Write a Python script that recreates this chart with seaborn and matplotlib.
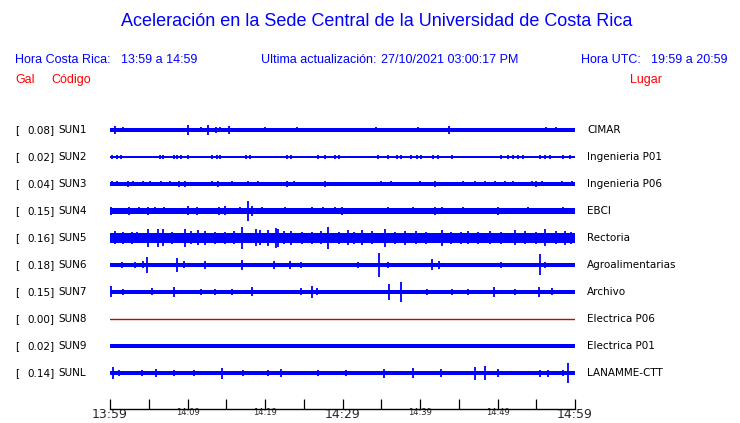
import matplotlib
matplotlib.use("Agg")
import matplotlib.pyplot as plt
import seaborn as sns
import numpy as np
import pandas as pd

# ---------------- data ----------------
codes = ["SUN1", "SUN2", "SUN3", "SUN4", "SUN5", "SUN6", "SUN7", "SUN8", "SUN9", "SUNL"]
gal = [0.08, 0.02, 0.04, 0.15, 0.16, 0.18, 0.15, 0.00, 0.02, 0.14]
places = ["CIMAR", "Ingenieria P01", "Ingenieria P06", "EBCI", "Rectoria",
          "Agroalimentarias", "Archivo", "Electrica P06", "Electrica P01", "LANAMME-CTT"]
# background half-amplitude of each trace (pixels)
base_amp = [1.6, 0.6, 1.7, 2.6, 5.0, 2.0, 2.2, 0.5, 1.6, 2.2]
# bursts: (minute after 13:59, half amplitude in pixels)
bursts = {
    "SUN1": [(0.7, 4), (1.7, 2.5), (10.1, 5.3), (11.8, 2.5), (12.7, 4.7), (13.7, 3), (14.2, 2.5),
             (15.4, 3.8), (20.0, 2.5), (21.1, 2), (24.1, 2.5), (34.3, 2.5), (37.2, 2.2),
             (39.8, 2.5), (43.8, 4.3), (44.9, 2), (56.2, 2.5), (57.5, 2.5)],
    "SUN2": [(0.2, 1.6), (0.9, 1.6), (1.4, 1.6), (3.0, 1.4), (5.2, 1.4), (6.5, 1.8), (6.9, 1.8),
             (8.2, 1.8), (8.6, 1.8), (9.2, 1.8), (10.1, 1.6), (11.2, 1.4), (13.1, 1.8), (13.8, 1.8),
             (14.2, 1.8), (15.6, 1.4), (17.6, 1.6), (18.1, 1.6), (22.9, 1.6), (23.4, 1.6),
             (25.8, 1.4), (26.9, 1.6), (27.7, 1.6), (29.0, 1.6), (29.5, 1.6), (32.3, 1.4),
             (32.7, 1.4), (33.5, 1.4), (34.6, 1.6), (35.9, 1.6), (37.0, 1.6), (37.6, 1.6),
             (38.9, 1.8), (39.6, 1.8), (40.1, 1.8), (41.7, 1.8), (42.3, 1.8), (43.0, 1.4),
             (44.1, 1.6), (50.5, 1.6), (51.4, 1.6), (52.0, 1.6), (52.7, 1.6), (53.3, 1.6),
             (55.5, 1.6), (56.1, 1.6), (56.8, 1.6), (58.5, 1.6), (59.3, 1.6)],
    "SUN3": [(0.2, 2.5), (0.9, 2.5), (2.3, 3), (3.0, 2.5), (4.2, 2.5), (5.2, 2.5), (6.6, 2.5),
             (7.7, 2.5), (8.9, 2.6), (9.7, 2.6), (13.1, 2.5), (13.9, 2.6), (15.7, 2.5), (17.8, 2.5),
             (19.1, 2.5), (22.8, 2.6), (23.7, 2.5), (27.7, 2.6), (35.0, 2.5), (36.3, 2.5),
             (40.0, 2.5), (41.9, 2.6), (45.6, 2.5), (47.1, 2.5), (48.4, 2.5), (49.7, 2.5),
             (51.0, 2.5), (52.0, 2.5), (54.4, 2.5), (55.0, 2.6), (55.7, 2.5), (58.3, 2.5),
             (59.6, 2.5)],
    "SUN4": [(0.1, 4), (1.2, 3), (2.4, 4), (3.7, 3.5), (4.9, 4), (5.8, 3.5), (6.3, 3), (7.0, 3.5),
             (8.5, 3.2), (10.1, 4.5), (11.2, 3.8), (12.5, 3), (14.0, 4), (14.8, 4.5), (16.8, 3.5),
             (17.8, 10), (18.3, 5), (19.6, 3.5), (21.0, 3), (22.6, 3.5), (24.0, 3), (26.0, 3.5),
             (27.5, 3.5), (29.0, 3.5), (29.9, 4), (31.0, 3), (33.0, 3), (35.9, 3.5), (37.5, 3),
             (39.1, 3.5), (41.9, 4), (42.8, 3.5), (44.0, 3), (45.6, 3.5), (47.5, 3), (50.1, 4),
             (52.0, 3), (53.9, 3.5), (56.0, 3), (58.5, 3.5), (59.5, 3)],
    "SUN5": [(0.6, 6.5), (1.7, 6), (2.8, 6), (3.5, 5.5), (4.9, 9), (6.2, 9), (6.8, 8.5), (8.0, 6),
             (9.7, 9), (10.5, 6.5), (11.4, 7.5), (12.3, 7), (13.5, 6), (14.8, 6), (16.0, 6.5),
             (17.0, 11), (18.9, 8.5), (19.4, 7.5), (20.4, 8), (21.4, 10), (21.7, 9), (22.5, 6.5),
             (23.4, 7), (24.8, 6), (26.0, 6), (27.2, 6.5), (28.1, 11), (29.5, 6), (30.7, 7.5),
             (31.5, 6), (32.5, 7.5), (33.8, 6.5), (35.5, 9), (36.8, 6), (38.1, 7), (39.5, 6.5),
             (40.8, 6), (42.8, 8), (44.0, 6), (45.3, 6), (46.2, 6.5), (47.5, 6), (49.0, 6.5),
             (50.5, 6), (52.2, 7.5), (53.5, 6.5), (55.0, 6), (56.1, 8.5), (57.5, 6.5), (58.7, 7),
             (59.5, 6)],
    "SUN6": [(1.5, 3), (3.2, 3), (4.3, 3.5), (4.8, 8), (8.6, 7), (9.5, 3.5), (12.3, 4), (17.0, 5),
             (21.1, 4), (23.2, 4), (24.7, 3), (32.0, 3), (34.7, 12), (35.9, 3), (41.5, 5.5),
             (42.4, 4), (50.5, 3), (55.5, 10.5), (56.1, 3)],
    "SUN7": [(0.1, 5.5), (1.7, 3), (5.4, 3.5), (8.2, 5), (11.8, 3), (13.5, 3), (15.7, 3),
             (18.3, 4.5), (24.7, 3.5), (26.1, 6), (26.7, 3.5), (36.0, 8.3), (37.6, 10), (40.9, 3),
             (44.1, 3), (46.2, 3), (49.6, 5), (52.2, 3), (55.3, 5), (57.0, 3.5)],
    "SUN8": [],
    "SUN9": [],
    "SUNL": [(0.4, 6), (1.1, 3), (4.1, 3), (5.9, 4), (8.3, 3), (10.9, 2.8), (14.4, 5.5),
             (17.2, 3), (20.4, 3), (22.0, 4), (26.9, 3), (30.5, 3), (35.3, 4.5), (39.1, 5),
             (42.7, 4), (47.1, 6.5), (48.4, 7), (50.0, 4), (55.5, 3.5), (56.5, 3.5), (58.5, 3),
             (59.1, 10)],
}
tick_minutes = list(range(0, 61, 5))
tick_labels = ["13:59", "", "14:09", "", "14:19", "", "14:29", "", "14:39", "", "14:49", "", "14:59"]
big_ticks = ["13:59", "14:29", "14:59"]

# ---------------- figure ----------------
sns.set_theme(style="white")
plt.rcParams["font.family"] = ["DejaVu Sans"]
W, H = 740, 423
fig = plt.figure(figsize=(W / 100, H / 100), dpi=100)
fig.patch.set_facecolor("white")

x0, x1 = 110, 575       # pixel extent of traces
ytop, ybot = 100, 409   # pixel extent of axes
ax = fig.add_axes([x0 / W, 1 - ybot / H, (x1 - x0) / W, (ybot - ytop) / H])
ax.set_xlim(0, 60)
ax.set_ylim(ybot, ytop)

blue = "#0000FF"
red_line = "#D40000"
first_center, spacing = 130, 27

for i, code in enumerate(codes):
    yc = first_center + spacing * i
    if code == "SUN8":
        df = pd.DataFrame({"t": [0, 60], "y": [yc, yc]})
        sns.lineplot(data=df, x="t", y="y", ax=ax, color=red_line, lw=1.0, estimator=None)
        continue
    b = base_amp[i]
    ax.fill_between([0, 60], yc - b, yc + b, color=blue, lw=0)
    bl = bursts[code]
    if bl:
        t = np.array([p[0] for p in bl])
        a = np.array([p[1] for p in bl])
        ax.vlines(t, yc - a, yc + a, color=blue, lw=1.3)

# axis styling
for s in ["top", "left", "right"]:
    ax.spines[s].set_visible(False)
ax.spines["bottom"].set_color("black")
ax.spines["bottom"].set_linewidth(1.0)
ax.set_yticks([])
ax.set_xticks(tick_minutes)
ax.set_xticklabels(tick_labels)
ax.tick_params(axis="x", direction="in", length=7, width=0.9, color="black", pad=-0.5,
               bottom=True)
for lab in ax.get_xticklabels():
    if lab.get_text() in big_ticks:
        lab.set_fontsize(9)
    else:
        lab.set_fontsize(6)
ax.set_xlabel("")
ax.set_ylabel("")
ax.grid(False)
ax.set_facecolor("white")

def px(x, y):
    return x / W, 1 - y / H

# station labels
for i, code in enumerate(codes):
    yc = first_center + spacing * i
    fig.text(*px(15, yc), "[", fontsize=7.5, va="center", ha="left", color="black")
    fig.text(*px(54.5, yc), f"{gal[i]:.2f}]", fontsize=7.5, va="center", ha="right", color="black")
    fig.text(*px(58, yc), code, fontsize=7.5, va="center", ha="left", color="black")
    fig.text(*px(587, yc), places[i], fontsize=7.5, va="center", ha="left", color="black")

hdr = dict(family=["Liberation Sans", "DejaVu Sans"], va="center", ha="left")
fig.text(*px(377, 22), "Aceleración en la Sede Central de la Universidad de Costa Rica",
         fontsize=13, color=blue, family=["Liberation Sans", "DejaVu Sans"], va="center", ha="center")
fig.text(*px(15, 60), "Hora Costa Rica:", fontsize=9, color=blue, **hdr)
fig.text(*px(121, 60), "13:59 a 14:59", fontsize=9, color=blue, **hdr)
fig.text(*px(261, 60), "Ultima actualización:", fontsize=9, color=blue, **hdr)
fig.text(*px(381, 60), "27/10/2021 03:00:17 PM", fontsize=9, color=blue, **hdr)
fig.text(*px(581, 60), "Hora UTC:", fontsize=9, color=blue, **hdr)
fig.text(*px(651, 60), "19:59 a 20:59", fontsize=9, color=blue, **hdr)
fig.text(*px(15, 80), "Gal", fontsize=9, color="#FF0000", **hdr)
fig.text(*px(51, 80), "Código", fontsize=9, color="#FF0000", **hdr)
fig.text(*px(630, 80), "Lugar", fontsize=9, color="#FF0000", **hdr)

fig.savefig("out.png", dpi=100, facecolor="white")
